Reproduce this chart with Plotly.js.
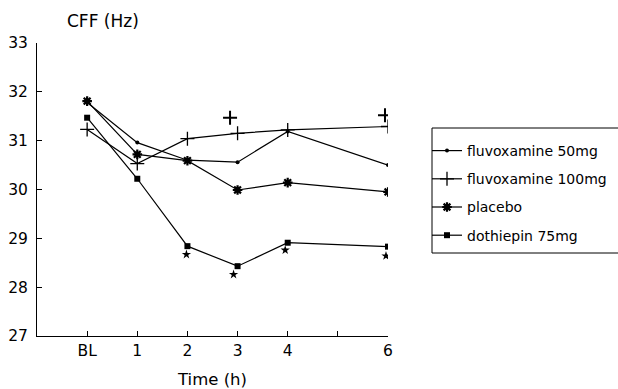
<!DOCTYPE html>
<html>
<head>
<meta charset="utf-8">
<script src="https://cdn.plot.ly/plotly-3.0.1.min.js"></script>
<style>body{margin:0;background:#fff;} #chart{width:618px;height:389px;}</style>
</head>
<body>
<div id="chart"></div>
<script>
// Time points (BL = 0)
const timeX = [0, 1, 2, 3, 4, 6];
const tickVals = [0, 1, 2, 3, 4, 5, 6];
const tickText = ['BL', '1', '2', '3', '4', '', '6'];
const yTicks = [27, 28, 29, 30, 31, 32, 33];

const seriesNames = ['fluvoxamine 50mg', 'fluvoxamine 100mg', 'placebo', 'dothiepin 75mg'];
const fluvox50 = [31.78, 30.96, 30.60, 30.56, 31.19, 30.50];
const fluvox100 = [31.23, 30.53, 31.04, 31.15, 31.22, 31.29];
const placebo = [31.81, 30.72, 30.59, 29.99, 30.14, 29.95];
const dothiepin = [31.47, 30.22, 28.84, 28.43, 28.91, 28.83];

// significance marks
const plusX = [2.85, 5.94];
const plusY = [31.47, 31.52];
const starX = [1.98, 2.92, 3.95, 5.96];
const starY = [28.67, 28.26, 28.76, 28.64];

const FONT = 'DejaVu Sans, Verdana, sans-serif';
const lineStyle = {color: '#000', width: 1.2};

const traces = [
  {x: timeX, y: fluvox50, name: seriesNames[0], legendgroup: 'a', mode: 'lines+markers',
   line: lineStyle, marker: {symbol: 'circle', size: 4, color: '#000'}},
  {x: timeX, y: fluvox100, name: seriesNames[1], legendgroup: 'b', mode: 'lines+markers',
   line: lineStyle, marker: {symbol: 'cross-thin', size: 10, color: '#000', line: {color: '#000', width: 1.3}}},
  {x: timeX, y: placebo, name: seriesNames[2], legendgroup: 'c', mode: 'lines+markers',
   line: lineStyle, marker: {symbol: 'asterisk-open', size: 8, color: '#000', line: {color: '#000', width: 2.2}}},
  {x: timeX, y: dothiepin, name: seriesNames[3], legendgroup: 'd', mode: 'lines+markers',
   line: lineStyle, marker: {symbol: 'square', size: 6, color: '#000'}},
  {x: plusX, y: plusY, mode: 'markers', showlegend: false, hoverinfo: 'skip',
   marker: {symbol: 'cross-thin', size: 10, color: '#000', line: {color: '#000', width: 2}}},
  {x: starX, y: starY, mode: 'markers', showlegend: false, hoverinfo: 'skip',
   marker: {symbol: 'star', size: 7, color: '#000'}}
];

const layout = {
  width: 618, height: 389,
  margin: {l: 37, r: 230, t: 43, b: 53, autoexpand: false},
  paper_bgcolor: '#fff', plot_bgcolor: '#fff',
  font: {family: FONT, size: 15, color: '#000'},
  showlegend: true,
  legend: {
    x: (427 - 37) / 351, y: (336 - 135) / 293, xanchor: 'left', yanchor: 'top',
    borderwidth: 0, bgcolor: 'rgba(0,0,0,0)',
    font: {family: FONT, size: 14, color: '#000'},
    tracegroupgap: 7, itemwidth: 30
  },
  shapes: [
    {type: 'rect', xref: 'paper', yref: 'paper',
     x0: (432 - 37) / 351, x1: (640 - 37) / 351,
     y0: (336 - 253) / 293, y1: (336 - 128) / 293,
     line: {color: '#000', width: 1}, fillcolor: 'rgba(0,0,0,0)', layer: 'below'}
  ],
  xaxis: {
    range: [-1, 6], tickvals: tickVals, ticktext: tickText,
    ticks: 'inside', ticklen: 5, tickcolor: '#000', tickwidth: 1,
    showline: true, linecolor: '#000', linewidth: 1,
    showgrid: false, zeroline: false, automargin: false,
    tickfont: {family: FONT, size: 15.5},
    title: {text: 'Time (h)', font: {family: FONT, size: 16.5}, standoff: 14}
  },
  yaxis: {
    range: [27, 33], tickvals: yTicks,
    ticks: 'inside', ticklen: 5, tickcolor: '#000', tickwidth: 1,
    showline: true, linecolor: '#000', linewidth: 1,
    showgrid: false, zeroline: false, automargin: false,
    tickfont: {family: FONT, size: 15.5}, ticklabelstandoff: 5
  },
  annotations: [
    {text: 'CFF (Hz)', xref: 'paper', yref: 'paper', x: (65 - 37) / 351, y: 1, xanchor: 'left', yanchor: 'middle',
     yshift: 22, showarrow: false, font: {family: FONT, size: 17, color: '#000'}}
  ]
};

Plotly.newPlot('chart', traces, layout, {displayModeBar: false, staticPlot: true});
</script>
</body>
</html>
